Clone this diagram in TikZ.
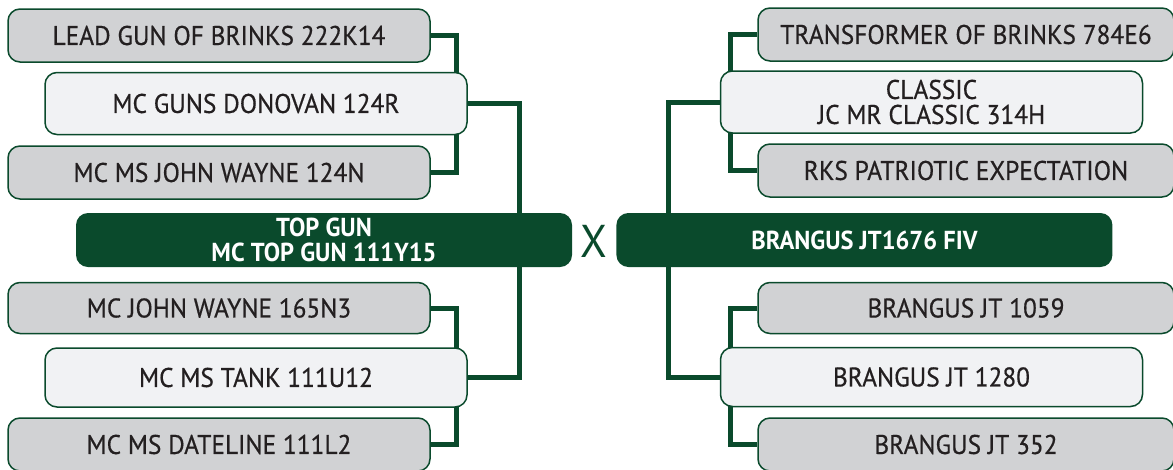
\documentclass[tikz,border=0pt]{standalone}
\usepackage{fontspec}
\setmainfont[FakeStretch=0.94]{PT Sans}
\newfontfamily\boxfont[FakeStretch=0.94, FakeBold=0.5]{PT Sans}
\usetikzlibrary{positioning,backgrounds}
\definecolor{pedgreen}{RGB}{10,74,44}
\definecolor{boxgray}{RGB}{209,210,212}
\definecolor{boxlight}{RGB}{241,242,244}
\definecolor{inkdark}{RGB}{35,31,32}

\begin{document}
\begin{tikzpicture}[x=1pt, y=-1pt, every node/.style={font=\boxfont\fontsize{27}{25}\selectfont},
  grandbox/.style={draw=pedgreen, line width=1.5pt, rounded corners=12pt, fill=boxgray, text=inkdark, minimum width=422pt, minimum height=53pt, inner sep=0pt},
  sirebox/.style={grandbox, fill=boxlight, minimum height=62pt, align=center},
  mainbox/.style={rounded corners=12pt, fill=pedgreen, text=white, minimum width=496pt, minimum height=54pt, inner sep=0pt, align=center, font=\normalfont\bfseries\fontsize{26}{25.5}\selectfont},
  link/.style={draw=pedgreen, line width=5pt}]
\useasboundingbox (0,0) rectangle (1173,469);
% left pedigree
\node[grandbox] (lead) at (219,35.5) {LEAD GUN OF BRINKS 222K14};
\node[sirebox] (donovan) at (256,103.5) {MC GUNS DONOVAN 124R};
\node[grandbox] (wayne124) at (219,172.5) {MC MS JOHN WAYNE 124N};
\node[mainbox] (topgun) at (324,240) {TOP GUN\\MC TOP GUN 111Y15};
\node[grandbox, minimum height=51pt] (wayne165) at (219,308) {MC JOHN WAYNE 165N3};
\node[sirebox, minimum height=59pt] (tank) at (256,377.5) {MC MS TANK 111U12};
\node[grandbox] (dateline) at (219,444.5) {MC MS DATELINE 111L2};
% cross
\node[text=pedgreen, inner sep=0pt, font=\normalfont\fontsize{46}{46}\selectfont] (cross) at (594,241.5) {X};
% right pedigree
\node[mainbox, right=44pt of topgun] (brangus) {BRANGUS JT1676 FIV};
\node[grandbox, minimum width=416pt] (transformer) at (966,34.5) {TRANSFORMER OF BRINKS 784E6};
\node[sirebox] (classic) at (931.5,102) {CLASSIC\\JC MR CLASSIC 314H};
\node[grandbox, minimum width=416pt] (patriotic) at (966,170.5) {RKS PATRIOTIC EXPECTATION};
\node[grandbox, minimum width=416pt, minimum height=51pt] (jt1059) at (966,308) {BRANGUS JT 1059};
\node[sirebox, minimum height=59pt] (jt1280) at (931.5,377) {BRANGUS JT 1280};
\node[grandbox, minimum width=416pt] (jt352) at (966,444.5) {BRANGUS JT 352};
% connectors behind the boxes
\begin{scope}[on background layer]
\draw[link] (lead.east) -- ++(26,0) |- (wayne124.east);
\draw[link] (donovan.east) -| ([xshift=-53pt]topgun.north east);
\draw[link] (wayne165.east) -- ++(26,0) |- (dateline.east);
\draw[link] (tank.east) -| ([xshift=-53pt]topgun.south east);
\draw[link] (transformer.west) -- ++(-27,0) |- (patriotic.west);
\draw[link] (classic.west) -| ([xshift=52pt]brangus.north west);
\draw[link] (jt1059.west) -- ++(-27,0) |- (jt352.west);
\draw[link] (jt1280.west) -| ([xshift=52pt]brangus.south west);
\end{scope}
\end{tikzpicture}
\end{document}
